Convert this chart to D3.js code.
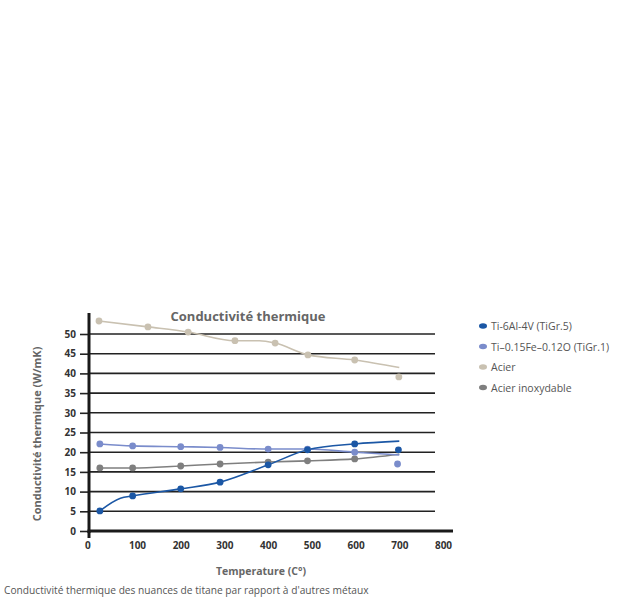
<!DOCTYPE html>
<html><head><meta charset="utf-8">
<script src="https://cdn.jsdelivr.net/npm/d3@7"></script>
<style>body{margin:0;background:#fff;} svg{display:block;}</style>
</head><body>
<svg id="c" width="622" height="600"></svg>
<script>
const seriesNames = ["Ti-6Al-4V (TiGr.5)", "Ti\u20130.15Fe\u20130.12O (TiGr.1)", "Acier", "Acier inoxydable"];
const seriesColors = ["#1b57a5", "#7a8ccb", "#c9c1b1", "#7f7f7f"];
// points
const ti64Temps = [15, 90, 200, 290, 400, 490, 598, 698];
const ti64Values = [5.1, 8.9, 10.7, 12.4, 16.8, 20.6, 22.1, 20.6];
const ti64LineTemps = [15, 62, 90, 200, 290, 400, 490, 598, 700];
const ti64LineValues = [5.1, 8.3, 8.9, 10.7, 12.4, 16.8, 20.6, 22.1, 22.8];
const tigr1Temps = [15, 90, 200, 290, 400, 490, 598, 696];
const tigr1Values = [22.1, 21.6, 21.4, 21.2, 20.8, 20.8, 20.0, 17.0];
const tigr1LineTemps = [15, 90, 200, 290, 400, 490, 598, 700];
const tigr1LineValues = [22.1, 21.6, 21.4, 21.2, 20.8, 20.8, 20.0, 19.3];
const acierTemps = [13, 125, 217, 324, 416, 491, 598, 699];
const acierValues = [53.3, 51.8, 50.5, 48.3, 47.7, 44.7, 43.4, 39.1];
const acierLineTemps = [13, 125, 217, 324, 380, 416, 491, 598, 700];
const acierLineValues = [53.3, 51.8, 50.5, 48.3, 48.3, 47.7, 44.7, 43.4, 41.5];
const inoxTemps = [15, 90, 200, 290, 400, 490, 598];
const inoxValues = [16.0, 16.0, 16.5, 17.0, 17.5, 17.8, 18.3];
const inoxLineTemps = [15, 90, 200, 290, 400, 490, 598, 700];
const inoxLineValues = [16.0, 16.0, 16.5, 17.0, 17.5, 17.8, 18.3, 19.5];
const xTicks = [0, 100, 200, 300, 400, 500, 600, 700, 800];
const yTicks = [0, 5, 10, 15, 20, 25, 30, 35, 40, 45, 50];

const series = [
  {pt: ti64Temps, pv: ti64Values, lt: ti64LineTemps, lv: ti64LineValues},
  {pt: tigr1Temps, pv: tigr1Values, lt: tigr1LineTemps, lv: tigr1LineValues},
  {pt: acierTemps, pv: acierValues, lt: acierLineTemps, lv: acierLineValues},
  {pt: inoxTemps, pv: inoxValues, lt: inoxLineTemps, lv: inoxLineValues}
];

const svg = d3.select("#c");
const x = d3.scaleLinear().domain([0, 800]).range([93.3, 443]);
const y = d3.scaleLinear().domain([0, 50]).range([531, 334]);
const axisX = 89;
const font = "'Open Sans', 'Noto Sans', sans-serif";

// gridlines
svg.append("g").selectAll("line").data(yTicks.filter(d => d > 0)).join("line")
  .attr("x1", axisX).attr("x2", 435)
  .attr("y1", d => y(d)).attr("y2", d => y(d))
  .attr("stroke", "#222").attr("stroke-width", 1.6);

// y axis
const yAxis = svg.append("g").attr("transform", `translate(${axisX},0)`)
  .call(d3.axisLeft(y).tickValues(yTicks).tickSize(9).tickPadding(4));
yAxis.select(".domain").remove();
yAxis.selectAll(".tick line").attr("stroke", "#222").attr("stroke-width", 1.6);
yAxis.selectAll("text").attr("font-family", font).attr("font-weight", "bold")
  .attr("font-size", 10).attr("fill", "#333");
svg.append("line").attr("x1", axisX).attr("x2", axisX).attr("y1", 313).attr("y2", 533)
  .attr("stroke", "#1a1a1a").attr("stroke-width", 3);

// x axis
const xAxis = svg.append("g").attr("transform", `translate(0,${y(0)})`)
  .call(d3.axisBottom(x).tickValues(xTicks).tickSize(0).tickPadding(11));
xAxis.select(".domain").remove();
xAxis.selectAll("text").attr("font-family", font).attr("font-weight", "bold")
  .attr("font-size", 10).attr("fill", "#333");
xAxis.selectAll(".tick").filter(d => d === 0).select("text").attr("dx", -6);
svg.append("line").attr("x1", axisX - 1.5).attr("x2", 453).attr("y1", y(0)).attr("y2", y(0))
  .attr("stroke", "#1a1a1a").attr("stroke-width", 3);
svg.append("line").attr("x1", axisX).attr("x2", axisX).attr("y1", y(0)).attr("y2", y(0) + 7)
  .attr("stroke", "#1a1a1a").attr("stroke-width", 3);

// lines and points
const line = d3.line().x(d => x(d[0])).y(d => y(d[1])).curve(d3.curveMonotoneX);
const order = [2, 3, 1, 0];
order.forEach(i => {
  const s = series[i];
  const ld = s.lt.map((t, k) => [t, s.lv[k]]);
  svg.append("path").datum(ld).attr("d", line).attr("fill", "none")
    .attr("stroke", seriesColors[i]).attr("stroke-width", 1.6);
});
order.forEach(i => {
  const s = series[i];
  const pd = s.pt.map((t, k) => [t, s.pv[k]]);
  svg.append("g").selectAll("circle").data(pd).join("circle")
    .attr("cx", d => x(d[0])).attr("cy", d => y(d[1])).attr("r", 3.4)
    .attr("fill", seriesColors[i]);
});

// title
svg.append("text").attr("x", 248).attr("y", 321).attr("text-anchor", "middle")
  .attr("font-family", font).attr("font-weight", "bold").attr("font-size", 13)
  .attr("fill", "#666").text("Conductivité thermique");

// axis titles
svg.append("text").attr("transform", `translate(41,434) rotate(-90)`).attr("text-anchor", "middle")
  .attr("font-family", font).attr("font-weight", "bold").attr("font-size", 11)
  .attr("fill", "#666").text("Conductivité thermique (W/mK)");
svg.append("text").attr("x", 261).attr("y", 575).attr("text-anchor", "middle")
  .attr("font-family", font).attr("font-weight", "bold").attr("font-size", 10.5)
  .attr("fill", "#666").text("Temperature (C°)");

// caption
svg.append("text").attr("x", 4).attr("y", 594)
  .attr("font-family", font).attr("font-size", 10.2)
  .attr("fill", "#555").text("Conductivité thermique des nuances de titane par rapport à d'autres métaux");

// legend
const leg = svg.append("g");
seriesNames.forEach((n, i) => {
  const yy = 326 + i * 20.5;
  leg.append("ellipse").attr("cx", 483).attr("cy", yy).attr("rx", 4).attr("ry", 2.7)
    .attr("fill", seriesColors[i]);
  leg.append("text").attr("x", 491).attr("y", yy + 4).attr("font-family", font)
    .attr("font-size", 10.5).attr("fill", "#555").text(n);
});
</script>
</body></html>
